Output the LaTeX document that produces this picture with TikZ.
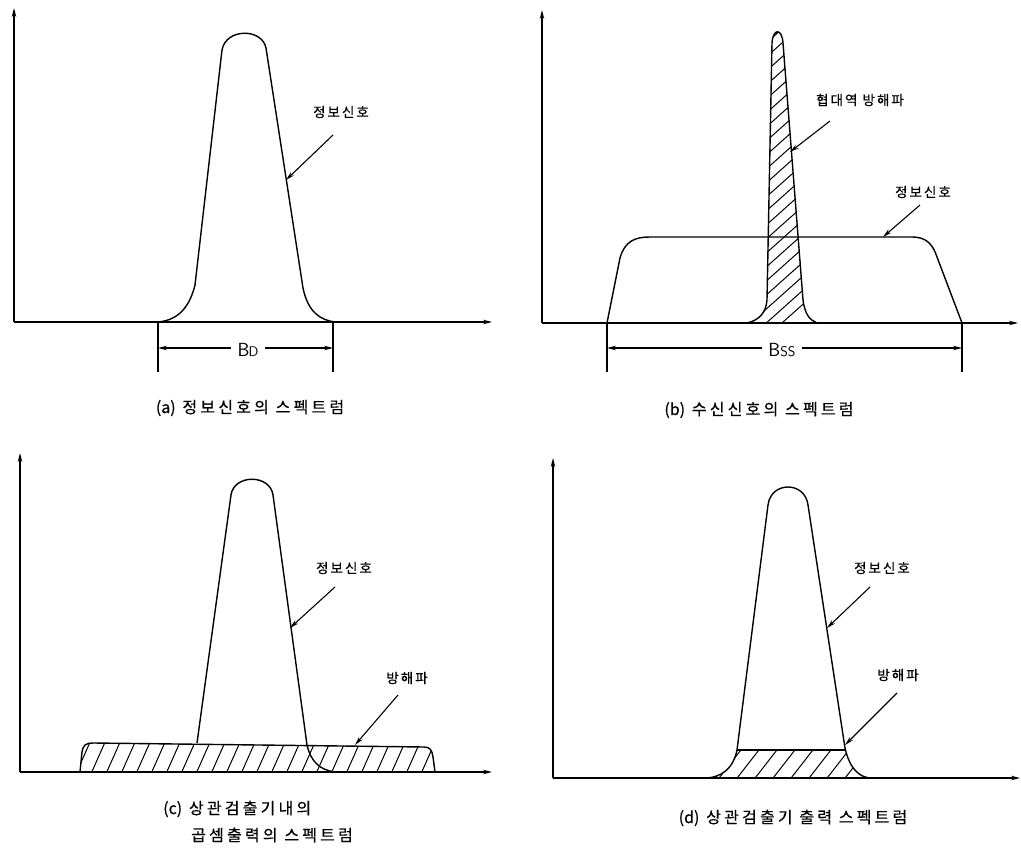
\documentclass[tikz,border=0pt]{standalone}
\usepackage{fontspec}
\newfontfamily\kr[LetterSpace=15,FakeBold=0.6]{Noto Sans CJK KR}
\newfontfamily\krcap[LetterSpace=20,FakeBold=0.5]{Noto Sans CJK KR}
\newfontfamily\krplain[FakeBold=0.5]{Noto Sans CJK KR}
\usetikzlibrary{arrows.meta}
\begin{document}
\begin{tikzpicture}[x=1pt,y=-1pt,
  curve/.style={line width=1.4pt, line join=round},
  axis/.style={line width=1.2pt, -{Stealth[length=9pt,width=4.5pt]}},
  pointer/.style={line width=1.1pt, -{Stealth[length=9pt,width=4.5pt]}},
  dimline/.style={line width=1.1pt},
  hatchline/.style={line width=1pt},
  lbl/.style={font=\kr\fontsize{13.5}{16}\selectfont, inner sep=0pt},
  captext/.style={font=\krcap\fontsize{16}{19}\selectfont, inner sep=0pt},
  dimlbl/.style={font=\sffamily\fontsize{19}{21}\selectfont, inner sep=6pt},
]
\useasboundingbox (0,0) rectangle (1021,848);

% ================= (a) =================
\coordinate (Ao) at (14,322);
\coordinate (Ay) at (14,8);
\coordinate (Ax) at (492,322);
\draw[axis] (Ao) -- (Ay);
\draw[axis] (Ao) -- (Ax);
\draw[curve] (158,322) .. controls (180,320) and (190,305) .. (195,285)
  -- (222,50) .. controls (226,28) and (262,28) .. (266,48)
  -- (303,288) .. controls (308,312) and (320,320) .. (335,322);
\coordinate (AdLt) at (158,322); \coordinate (AdLb) at (158,372);
\coordinate (AdRt) at (333,322); \coordinate (AdRb) at (333,372);
\draw[dimline] (AdLt) -- (AdLb);
\draw[dimline] (AdRt) -- (AdRb);
\node[dimlbl] (BD) at (248,350) {B\kern-1pt{\fontsize{14}{16}\selectfont D}};
\coordinate (AdLa) at (158,348); \coordinate (AdRa) at (333,348);
\draw[pointer] (BD.west |- AdLa) -- (AdLa);
\draw[pointer] (BD.east |- AdRa) -- (AdRa);
\node[lbl] (La) at (341,112) {정보신호};
\coordinate (LaS) at (333,135); \coordinate (LaE) at (286,180);
\draw[pointer] (LaS) -- (LaE);
\node[captext] (Ca) at (250,408) {{\krplain(a)} 정보신호의 스펙트럼};

% ================= (b) =================
\coordinate (Bo) at (542,323);
\coordinate (By) at (542,10);
\coordinate (Bx) at (1018,323);
\draw[axis] (Bo) -- (By);
\draw[axis] (Bo) -- (Bx);
% narrowband interference (hatched)
\begin{scope}
  \clip (747,323) .. controls (760,320) and (766,312) .. (767,300)
    -- (772,43) .. controls (773,28) and (782,28) .. (783,43)
    -- (803,300) .. controls (805,315) and (810,320) .. (817,323) -- cycle;
  \foreach \k in {0,...,24} \draw[hatchline] (735,365-\k*14) -- ++(95,-85);
\end{scope}
\draw[curve] (747,323) .. controls (760,320) and (766,312) .. (767,300)
    -- (772,43) .. controls (773,28) and (782,28) .. (783,43)
    -- (803,300) .. controls (805,315) and (810,320) .. (817,323);
% information signal (wideband)
\draw[curve] (607,323) -- (620,258) .. controls (625,241) and (635,237) .. (650,237)
  -- (912,237) .. controls (927,237) and (933,245) .. (937,257) -- (962,323);
\coordinate (BdLt) at (607,323); \coordinate (BdLb) at (607,372);
\coordinate (BdRt) at (962,323); \coordinate (BdRb) at (962,372);
\draw[dimline] (BdLt) -- (BdLb);
\draw[dimline] (BdRt) -- (BdRb);
\node[dimlbl] (BSS) at (782,350) {B{\fontsize{14}{16}\selectfont SS}};
\coordinate (BdLa) at (607,348); \coordinate (BdRa) at (962,348);
\draw[pointer] (BSS.west |- BdLa) -- (BdLa);
\draw[pointer] (BSS.east |- BdRa) -- (BdRa);
\node[lbl] (Lb1) at (860,100) {협대역 방해파};
\coordinate (Lb1S) at (830,121); \coordinate (Lb1E) at (790,152);
\draw[pointer] (Lb1S) -- (Lb1E);
\node[lbl] (Lb2) at (923,192) {정보신호};
\coordinate (Lb2S) at (920,205); \coordinate (Lb2E) at (883,237);
\draw[pointer] (Lb2S) -- (Lb2E);
\node[captext] (Cb) at (759,410) {{\krplain(b)} 수신신호의 스펙트럼};

% ================= (c) =================
\coordinate (Co) at (20,772);
\coordinate (Cy) at (20,453);
\coordinate (Cx) at (492,772);
\draw[axis] (Co) -- (Cy);
\draw[axis] (Co) -- (Cx);
\begin{scope}
  \clip (80,772) -- (82,752) .. controls (83,745) and (86,743) .. (93,743)
    -- (424,747) .. controls (430,747) and (432,750) .. (433,757) -- (435,772) -- cycle;
  \foreach \k in {0,...,26} \draw[hatchline] (60+\k*15,776) -- ++(16,-36);
\end{scope}
\draw[curve] (80,772) -- (82,752) .. controls (83,745) and (86,743) .. (93,743)
    -- (424,747) .. controls (430,747) and (432,750) .. (433,757) -- (435,772);
\draw[curve] (197,743) -- (231,495) .. controls (234,474) and (270,474) .. (273,495)
  -- (307,745) .. controls (311,762) and (320,770) .. (335,772);
\node[lbl] (Lc1) at (344,568) {정보신호};
\coordinate (Lc1S) at (335,587); \coordinate (Lc1E) at (290,628);
\draw[pointer] (Lc1S) -- (Lc1E);
\node[lbl] (Lc2) at (407,678) {방해파};
\coordinate (Lc2S) at (398,695); \coordinate (Lc2E) at (355,745);
\draw[pointer] (Lc2S) -- (Lc2E);
\node[captext, anchor=west] (Cc1) at (163,809) {{\krplain(c)} 상관검출기내의};
\node[captext, anchor=west] (Cc2) at (191,835) {곱셈출력의 스펙트럼};

% ================= (d) =================
\coordinate (Do) at (553,778);
\coordinate (Dy) at (553,458);
\coordinate (Dx) at (1020,778);
\draw[axis] (Do) -- (Dy);
\draw[axis] (Do) -- (Dx);
\begin{scope}
  \clip (700,750) rectangle (880,778);
  \clip (707,778) .. controls (720,777) and (733,770) .. (737,750)
    -- (768,505) .. controls (771,481) and (805,481) .. (808,505)
    -- (845,748) .. controls (850,770) and (860,777) .. (870,778) -- cycle;
  \foreach \k in {0,...,11} \draw[hatchline] (680+\k*18,782) -- ++(28,-36);
\end{scope}
\draw[curve] (707,778) .. controls (720,777) and (733,770) .. (737,750)
    -- (768,505) .. controls (771,481) and (805,481) .. (808,505)
    -- (845,748) .. controls (850,770) and (860,777) .. (870,778);
\coordinate (DhL) at (737,750); \coordinate (DhR) at (845,750);
\draw[curve] (DhL) -- (DhR);
\node[lbl] (Ld1) at (882,568) {정보신호};
\coordinate (Ld1S) at (870,587); \coordinate (Ld1E) at (827,628);
\draw[pointer] (Ld1S) -- (Ld1E);
\node[lbl] (Ld2) at (898,675) {방해파};
\coordinate (Ld2S) at (897,693); \coordinate (Ld2E) at (845,745);
\draw[pointer] (Ld2S) -- (Ld2E);
\node[captext] (Cd) at (793,818) {{\krplain(d)} 상관검출기 출력 스펙트럼};
\end{tikzpicture}
\end{document}
